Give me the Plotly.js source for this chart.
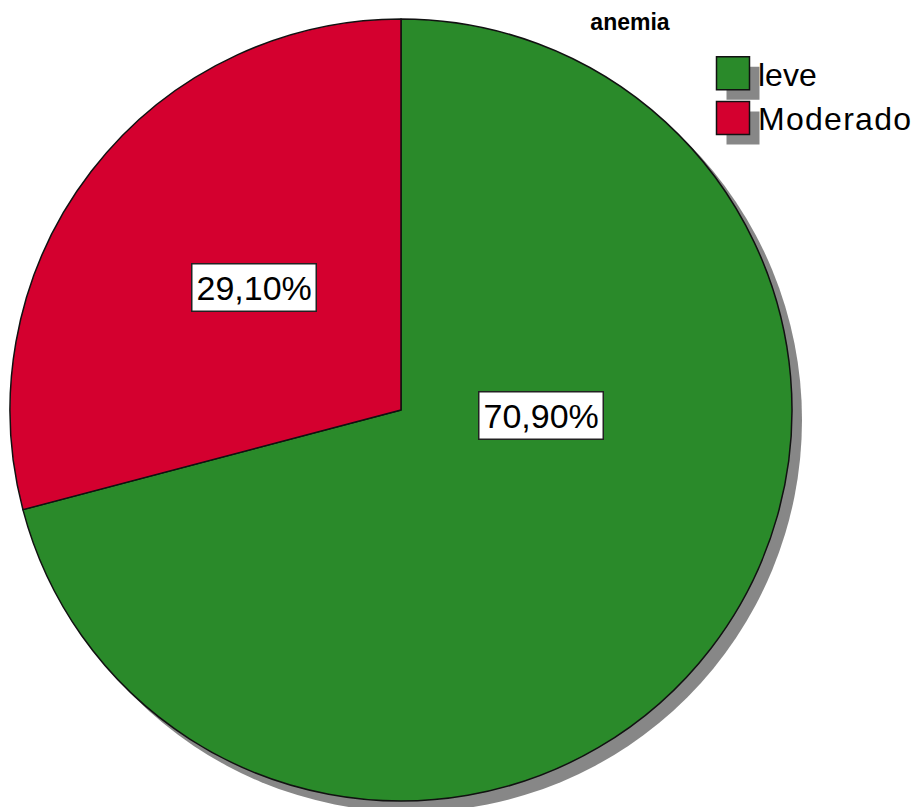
<!DOCTYPE html>
<html>
<head>
<meta charset="utf-8">
<script src="https://cdn.plot.ly/plotly-3.0.1.min.js"></script>
<style>html,body{margin:0;padding:0;background:#fff;}#chart{width:922px;height:807px;}</style>
</head>
<body>
<div id="chart"></div>
<script>
// ---- data ----
const categories = ['leve', 'Moderado'];
const percentages = [70.9, 29.1];
const sliceColors = ['#2a8a2a', '#d4002f'];
const chartTitle = 'anemia';

// ---- layout constants (style) ----
const W = 922, H = 807;
const pieBox = {left: 10, right: 792, top: 18, bottom: 802}; // px
const shadowOffset = 10;
// label box centres in px (placement style)
const labelPos = [[541, 415], [254, 287]];

function fmt(v) { return v.toFixed(2).replace('.', ',') + '%'; }

const pie = {
  type: 'pie',
  labels: categories,
  values: percentages,
  sort: false,
  direction: 'counterclockwise',
  rotation: 0,
  textinfo: 'none',
  hoverinfo: 'none',
  marker: {colors: sliceColors, line: {color: '#111', width: 1.5}},
  domain: {x: [pieBox.left / W, pieBox.right / W], y: [1 - pieBox.bottom / H, 1 - pieBox.top / H]},
  showlegend: true
};

const annotations = percentages.map((v, i) => ({
  text: fmt(v),
  xref: 'paper', yref: 'paper',
  x: labelPos[i][0] / W, y: 1 - labelPos[i][1] / H,
  xanchor: 'center', yanchor: 'middle',
  showarrow: false,
  font: {family: 'Arial, Liberation Sans, sans-serif', size: 34, color: '#000'},
  bgcolor: '#fff', bordercolor: '#222', borderwidth: 1.5, borderpad: 4
}));

const layout = {
  width: W, height: H,
  margin: {l: 0, r: 0, t: 0, b: 0},
  paper_bgcolor: '#fff',
  title: {text: '<b>' + chartTitle + '</b>', x: 630 / W, xanchor: 'center', y: 1 - 22 / H, yanchor: 'middle',
          font: {family: 'Arial, Liberation Sans, sans-serif', size: 23, color: '#000'}},
  showlegend: true,
  legend: {x: 708 / W, y: 1 - 46 / H, xanchor: 'left', yanchor: 'top', itemwidth: 40,
           bgcolor: 'rgba(0,0,0,0)', font: {family: 'Arial, Liberation Sans, sans-serif', size: 32, color: '#000'}},
  shapes: [{type: 'circle', xref: 'paper', yref: 'paper', layer: 'below',
            x0: (pieBox.left + shadowOffset) / W, x1: (pieBox.right + shadowOffset) / W,
            y0: 1 - (pieBox.bottom + shadowOffset) / H, y1: 1 - (pieBox.top + shadowOffset) / H,
            fillcolor: '#878787', line: {width: 0}}],
  annotations: annotations
};

Plotly.newPlot('chart', [pie], layout, {displayModeBar: false, staticPlot: true}).then(gd => {
  const sb = gd.querySelector('.legend .scrollbox');
  if (sb) sb.removeAttribute('clip-path');
  gd.querySelectorAll('.legend .traces').forEach(t => {
    const p = t.querySelector('.legendpoints path');
    if (!p) return;
    const base = p.getAttribute('transform') || '';
    p.setAttribute('transform', base + ' scale(2.75)');
    p.style.vectorEffect = 'non-scaling-stroke';
    const sh = p.cloneNode(true);
    sh.style.fill = '#878787';
    sh.style.stroke = 'none';
    sh.setAttribute('transform', base + ' translate(10,10) scale(2.75)');
    p.parentNode.insertBefore(sh, p);
    const txt = t.querySelector('text.legendtext');
    if (txt) txt.setAttribute('textLength', txt.textContent === 'Moderado' ? 153 : txt.getAttribute('textLength') || '');
  });
});
</script>
</body>
</html>
